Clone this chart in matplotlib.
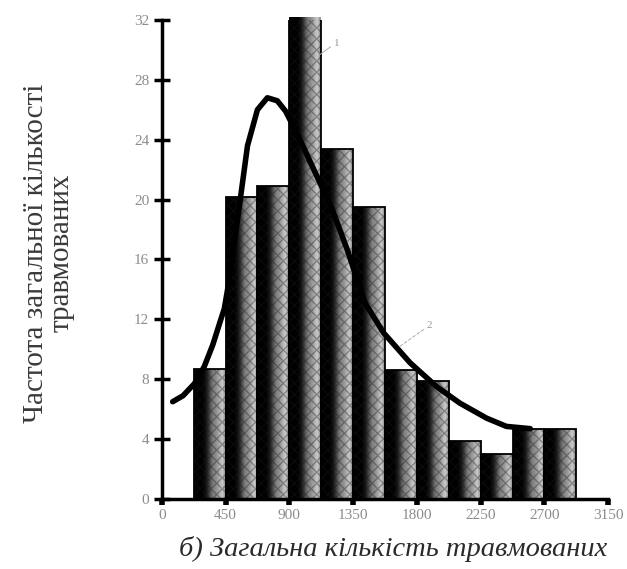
import numpy as np
import matplotlib
matplotlib.use('Agg')
import matplotlib.pyplot as plt
from matplotlib.patches import Rectangle

# гістограма: межі інтервалів і частоти
bin_left = [225, 450, 675, 900, 1125, 1350, 1575, 1800, 2025, 2250, 2475, 2700]
bin_width = 225
freq = [8.7, 20.2, 20.9, 32.2, 23.4, 19.5, 8.6, 7.9, 3.9, 3.0, 4.7, 4.7]

# теоретична крива (зчитані точки)
curve_x = [77, 150, 230, 300, 360, 417, 441, 470, 500, 530, 558, 605, 675, 745, 815, 874,
           960, 1073, 1200, 1307, 1434, 1565, 1752, 1940, 2104, 2292, 2432, 2600]
curve_y = [6.5, 6.9, 7.7, 8.85, 10.3, 12.0, 12.7, 14.3, 16.4, 18.4, 20.3, 23.6, 26.0, 26.8, 26.6, 25.9,
           24.3, 22.0, 19.4, 16.7, 13.1, 11.1, 9.1, 7.5, 6.4, 5.4, 4.85, 4.7]

xticks = [0, 450, 900, 1350, 1800, 2250, 2700, 3150]
yticks = [0, 4, 8, 12, 16, 20, 24, 28, 32]

plt.rcParams['font.family'] = ['Liberation Serif', 'DejaVu Serif']

fig = plt.figure(figsize=(6.27, 5.69), dpi=100)
ax = fig.add_axes([0.258, 0.123, 0.712, 0.842])

# заливка стовпців: чорний зліва, сірий справа
profile = np.array([0.0, 0.0, 0.0, 0.0, 0.03, 0.1, 0.22, 0.38, 0.5, 0.55, 0.62, 0.72, 0.78, 0.6])
grad = np.tile(profile, (2, 1))

for x0, h in zip(bin_left, freq):
    rect = Rectangle((x0, 0), bin_width, h, facecolor='none', edgecolor='black', lw=1.3, zorder=3)
    ax.add_patch(rect)
    im = ax.imshow(grad, cmap='gray', vmin=0, vmax=1, aspect='auto',
                   extent=[x0, x0 + bin_width, 0, h], zorder=2, interpolation='bilinear')
    im.set_clip_path(rect)
    hatch = Rectangle((x0, 0), bin_width, h, facecolor='none', edgecolor='#1a1a1a',
                      hatch='xxx', lw=0, zorder=2.5, alpha=0.35)
    ax.add_patch(hatch)

ax.plot(curve_x, curve_y, color='black', lw=4, solid_capstyle='round', zorder=4)

# позначки 1 і 2
ax.plot([1118, 1190], [29.7, 30.2], color='#aaaaaa', lw=0.7, zorder=5)
ax.text(1215, 30.4, '1', fontsize=8, color='#999999', va='center', zorder=5)
ax.plot([1680, 1860], [10.2, 11.4], color='#aaaaaa', lw=0.7, ls='--', zorder=5)
ax.text(1870, 11.6, '2', fontsize=8, color='#999999', va='center', zorder=5)

ax.set_xlim(0, 3150)
ax.set_ylim(0, 32)
ax.set_xticks(xticks)
ax.set_yticks(yticks)
ax.set_xticklabels([str(v) for v in xticks], fontsize=11, color='#8c8c8c')
ax.set_yticklabels([str(v) for v in yticks], fontsize=11, color='#8c8c8c')
ax.tick_params(axis='y', direction='inout', length=12, width=2.5, pad=3)
ax.tick_params(axis='x', direction='out', length=4, width=4, pad=3)

for s in ['top', 'right']:
    ax.spines[s].set_visible(False)
ax.spines['left'].set_linewidth(2.5)
ax.spines['bottom'].set_linewidth(2.5)

fig.text(0.078, 0.555, 'Частота загальної кількості\nтравмованих', rotation=90,
         ha='center', va='center', fontsize=21, color='#3a3a3a', linespacing=1.0)
fig.text(0.285, 0.035, 'б) Загальна кількість травмованих', fontsize=20.5,
         style='italic', color='#2a2a2a', ha='left', va='center')

fig.savefig('out.png', dpi=100)
